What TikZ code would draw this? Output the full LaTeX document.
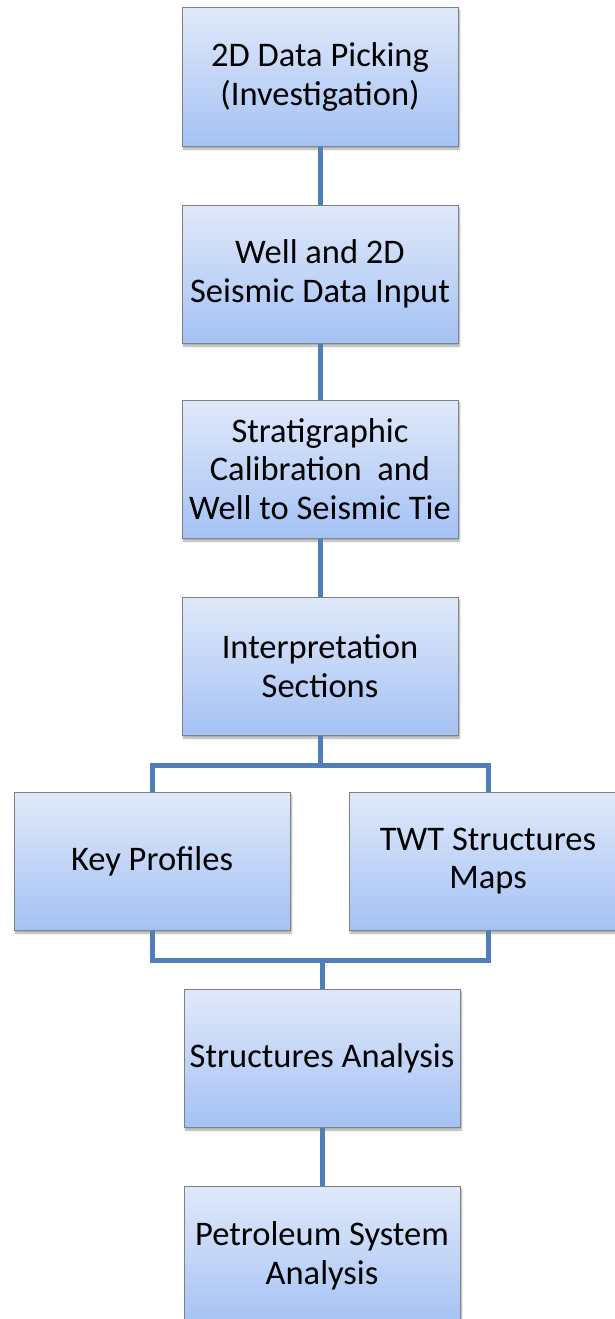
\documentclass[tikz,border=0pt]{standalone}
\usepackage{fontspec}
\setmainfont{Carlito}
\usetikzlibrary{shadows.blur}
\definecolor{linkblue}{RGB}{79,126,185}
\definecolor{boxtop}{RGB}{224,233,250}
\definecolor{boxbot}{RGB}{164,194,244}
\definecolor{boxedge}{RGB}{128,128,128}
\tikzset{
  x=1pt, y=-1pt,
  stage/.style={draw=boxedge, line width=1pt, top color=boxtop, bottom color=boxbot,
    minimum width=276pt, minimum height=138pt, align=center, inner sep=0pt,
    font=\fontsize{34.5}{38.5}\selectfont,
    blur shadow={shadow xshift=1.5pt, shadow yshift=-3pt, shadow blur steps=6, shadow opacity=35}},
  link/.style={draw=linkblue, line width=5pt}
}
\begin{document}
\begin{tikzpicture}
\useasboundingbox (0,0) rectangle (614,1319);
\node[stage] (pick)  at (320,77)  {2D Data Picking\\(Investigation)};
\node[stage] (input) at (320,274) {Well and 2D\\Seismic Data Input};
\node[stage] (strat) at (320,469) {Stratigraphic\\Calibration\ \ and\\Well to Seismic Tie};
\node[stage] (interp) at (320,666) {Interpretation\\Sections};
\node[stage] (key)   at (152,861) {Key Profiles};
\node[stage, minimum width=278pt] (twt) at (488,861) {TWT Structures\\Maps};
\node[stage] (struct) at (322,1058) {Structures Analysis};
\node[stage, minimum height=140pt] (petro) at (322,1256) {Petroleum System\\Analysis};
\coordinate (split) at (320,765);
\coordinate (join)  at (322,960);
\draw[link] (pick) -- (input);
\draw[link] (input) -- (strat);
\draw[link] (strat) -- (interp);
\draw[link] (interp) -- (split);
\draw[link] (key.north) |- (split) -| (twt.north);
\draw[link] (key.south) |- (join) -| (twt.south);
\draw[link] (join) -- (struct);
\draw[link] (struct) -- (petro);
\end{tikzpicture}
\end{document}
